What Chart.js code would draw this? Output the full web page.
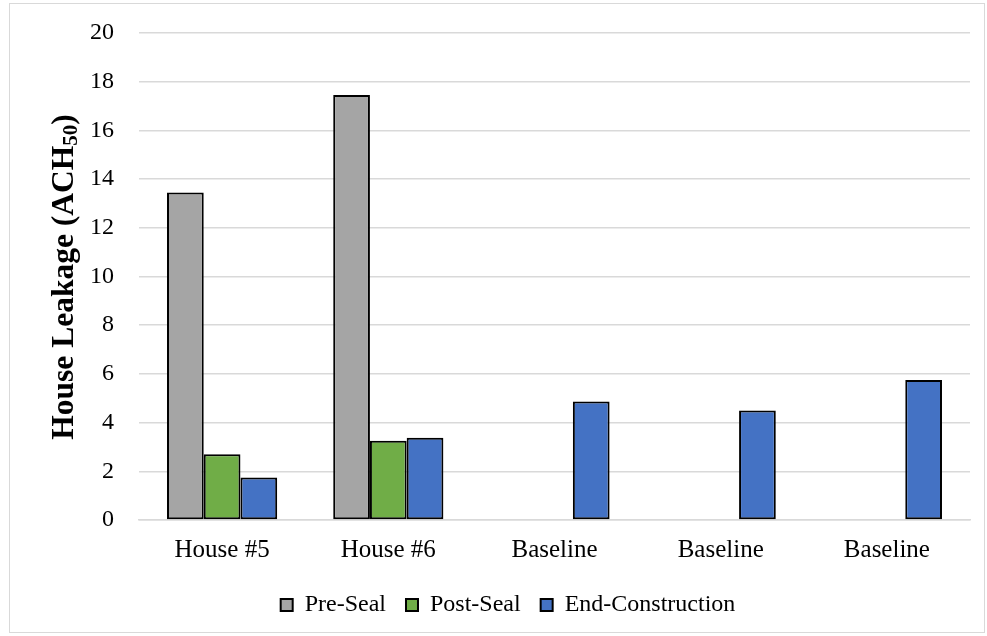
<!DOCTYPE html>
<html>
<head>
<meta charset="utf-8">
<script src="https://cdn.jsdelivr.net/npm/chart.js@4/dist/chart.umd.min.js"></script>
<style>
  html, body { margin: 0; padding: 0; background: #fff; }
  #wrap { position: absolute; left: 9px; top: 3px; width: 976px; height: 630px; border: 1px solid #d9d9d9; box-sizing: border-box; }
  canvas { position: absolute; left: 0; top: 0; }
</style>
</head>
<body>
<div id="wrap"></div>
<canvas id="chart" width="987" height="636"></canvas>
<script>
const categories = ["House #5", "House #6", "Baseline", "Baseline", "Baseline"];
const preSeal = [13.45, 17.45, null, null, null];
const postSeal = [2.7, 3.25, null, null, null];
const endConstruction = [1.75, 3.38, 4.87, 4.5, 5.75];
const yTicks = [0, 2, 4, 6, 8, 10, 12, 14, 16, 18, 20];

const serif = "'Liberation Serif', 'Times New Roman', serif";

// draws the rotated y title with the 50 as subscript
const yTitlePlugin = {
  id: "yTitle",
  afterDraw(chart) {
    const ctx = chart.ctx;
    const main = "House Leakage (ACH";
    const sub = "50";
    const end = ")";
    ctx.save();
    ctx.fillStyle = "#000";
    ctx.textBaseline = "middle";
    ctx.font = "bold 31.5px " + serif;
    const w1 = ctx.measureText(main).width;
    const w3 = ctx.measureText(end).width;
    ctx.font = "bold 21px " + serif;
    const w2 = ctx.measureText(sub).width;
    const total = w1 + w2 + w3;
    ctx.translate(65, 277);
    ctx.rotate(-Math.PI / 2);
    let x = -total / 2;
    ctx.textAlign = "left";
    ctx.font = "bold 31.5px " + serif;
    ctx.fillText(main, x, 0);
    x += w1;
    ctx.font = "bold 21px " + serif;
    ctx.fillText(sub, x, 7);
    x += w2;
    ctx.font = "bold 31.5px " + serif;
    ctx.fillText(end, x, 0);
    ctx.restore();
  },
};

const ctx = document.getElementById("chart").getContext("2d");
new Chart(ctx, {
  type: "bar",
  data: {
    labels: categories,
    datasets: [
      { label: "Pre-Seal", data: preSeal, backgroundColor: "#a5a5a5" },
      { label: "Post-Seal", data: postSeal, backgroundColor: "#70ad47" },
      { label: "End-Construction", data: endConstruction, backgroundColor: "#4472c4" },
    ].map((d) => ({
      ...d,
      borderColor: "#000",
      borderWidth: 2,
      borderSkipped: false,
      barPercentage: 1,
      categoryPercentage: 0.663,
    })),
  },
  options: {
    responsive: false,
    animation: false,
    layout: { padding: { top: 33, right: 17, bottom: 9, left: 46 } },
    scales: {
      y: {
        min: 0,
        max: 20,
        afterBuildTicks(scale) {
          scale.ticks = yTicks.map((v) => ({ value: v }));
        },
        afterFit(scale) {
          scale.width = 93;
          scale.paddingTop = 0;
          scale.paddingBottom = 0;
        },
        grid: { color: "#d9d9d9", lineWidth: 1.5, drawTicks: false },
        border: { display: false },
        ticks: { padding: 25, color: "#000", font: { family: serif, size: 24 } },
      },
      x: {
        afterFit(scale) {
          scale.height = 53;
        },
        grid: { display: false },
        border: { color: "#d9d9d9", width: 1.5 },
        ticks: { padding: 7, color: "#000", font: { family: serif, size: 25 } },
      },
    },
    plugins: {
      legend: {
        position: "bottom",
        labels: {
          color: "#000",
          font: { family: serif, size: 24 },
          boxWidth: 12,
          boxHeight: 12,
          padding: 20,
          generateLabels(chart) {
            return chart.data.datasets.map((d, i) => ({
              text: d.label,
              fillStyle: d.backgroundColor,
              strokeStyle: "#000",
              lineWidth: 2,
              datasetIndex: i,
            }));
          },
        },
      },
      tooltip: { enabled: false },
    },
  },
  plugins: [yTitlePlugin],
});
</script>
</body>
</html>
